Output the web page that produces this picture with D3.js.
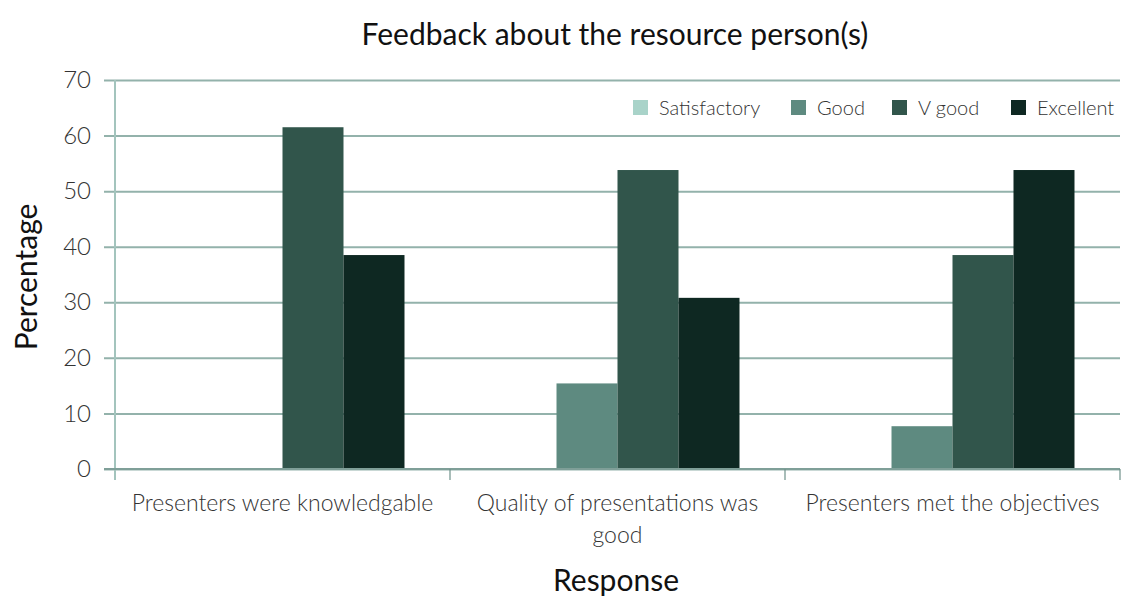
<!DOCTYPE html>
<html><head><meta charset="utf-8">
<script src="https://cdn.jsdelivr.net/npm/d3@7"></script>
<style>body{margin:0;background:#fff}</style>
</head><body><svg id="c" width="1124" height="602"></svg>
<script>
const categories = ["Presenters were knowledgable", "Quality of presentations was good", "Presenters met the objectives"];
const series = ["Satisfactory", "Good", "V good", "Excellent"];
const satisfactory = [0, 0, 0];
const good = [0, 15.4, 7.7];
const vgood = [61.5, 53.8, 38.5];
const excellent = [38.5, 30.8, 53.8];
const yTicks = [0, 10, 20, 30, 40, 50, 60, 70];
const colors = ["#a9d3c9", "#5e8a80", "#31554b", "#0e2822"];
const valuesBySeries = [satisfactory, good, vgood, excellent];

const svg = d3.select("#c");
const font = "Lato, 'Noto Sans', sans-serif";
const L = 115, R = 1120, T = 80, B = 469;
const x0 = d3.scaleBand().domain(categories).range([L, R]).padding(0);
const x1 = d3.scaleBand().domain(series).range([0, x0.bandwidth()]).paddingInner(0).paddingOuter(0.746);
const y = d3.scaleLinear().domain([0, 70]).range([B, T]);

// gridlines
const yAxis = d3.axisLeft(y).tickValues(yTicks).tickSize(-(R - L)).tickPadding(24).tickFormat(d3.format("d"));
const gy = svg.append("g").attr("transform", `translate(${L},0)`).call(yAxis);
gy.select(".domain").remove();
gy.selectAll(".tick line").attr("stroke", "#93b2ab").attr("stroke-width", 2).attr("x1", -11);
gy.selectAll(".tick text").attr("font-family", font).attr("font-weight", 300).attr("font-size", 24).attr("fill", "#333");

// bars
const groups = svg.append("g").selectAll("g").data(categories).join("g")
  .attr("transform", d => `translate(${x0(d)},0)`);
groups.selectAll("rect").data((c, i) => series.map((s, j) => ({s, v: valuesBySeries[j][i], j})))
  .join("rect")
  .attr("x", d => x1(d.s)).attr("width", x1.bandwidth())
  .attr("y", d => y(d.v)).attr("height", d => B - y(d.v))
  .attr("fill", d => colors[d.j]);

// y axis line
svg.append("line").attr("x1", L).attr("x2", L).attr("y1", T).attr("y2", B + 11)
  .attr("stroke", "#a3c4bd").attr("stroke-width", 2);
// x axis line + category ticks
svg.append("line").attr("x1", L - 11).attr("x2", R).attr("y1", B).attr("y2", B)
  .attr("stroke", "#7f9f98").attr("stroke-width", 2);
const bounds = categories.map(c => x0(c)).concat([R]);
svg.append("g").selectAll("line").data(bounds.slice(1)).join("line")
  .attr("x1", d => d).attr("x2", d => d).attr("y1", B).attr("y2", B + 11)
  .attr("stroke", "#6f918a").attr("stroke-width", 1.2);

// category labels (wrapped)
const wrapW = 320;
const gx = svg.append("g");
categories.forEach(c => {
  const cx = x0(c) + x0.bandwidth() / 2;
  const t = gx.append("text").attr("x", cx).attr("y", 511)
    .attr("text-anchor", "middle").attr("font-family", font).attr("font-weight", 300)
    .attr("font-size", 23).attr("fill", "#333");
  const words = c.split(" ");
  let line = [], tspan = t.append("tspan").attr("x", cx).attr("dy", 0);
  words.forEach(w => {
    line.push(w);
    tspan.text(line.join(" "));
    if (tspan.node().getComputedTextLength() > wrapW && line.length > 1) {
      line.pop(); tspan.text(line.join(" "));
      line = [w];
      tspan = t.append("tspan").attr("x", cx).attr("dy", 32).text(w);
    }
  });
});

// title & axis titles
svg.append("text").attr("x", 615).attr("y", 45).attr("text-anchor", "middle")
  .attr("font-family", font).attr("font-size", 30).attr("fill", "#111").text("Feedback about the resource person(s)");
svg.append("text").attr("x", 616).attr("y", 591).attr("text-anchor", "middle")
  .attr("font-family", font).attr("font-size", 30).attr("fill", "#111").text("Response");
svg.append("text").attr("transform", "translate(37,277) rotate(-90)").attr("text-anchor", "middle")
  .attr("font-family", font).attr("font-size", 30).attr("fill", "#111").text("Percentage");

// legend
const legendX = [633, 791, 892, 1011];
const lg = svg.append("g").selectAll("g").data(series).join("g")
  .attr("transform", (d, i) => `translate(${legendX[i]},100)`);
lg.append("rect").attr("width", 15).attr("height", 15).attr("fill", (d, i) => colors[i]);
lg.append("text").attr("x", 26).attr("y", 15).attr("font-family", font).attr("font-weight", 300)
  .attr("font-size", 20).attr("fill", "#333").text(d => d);
</script></body></html>
